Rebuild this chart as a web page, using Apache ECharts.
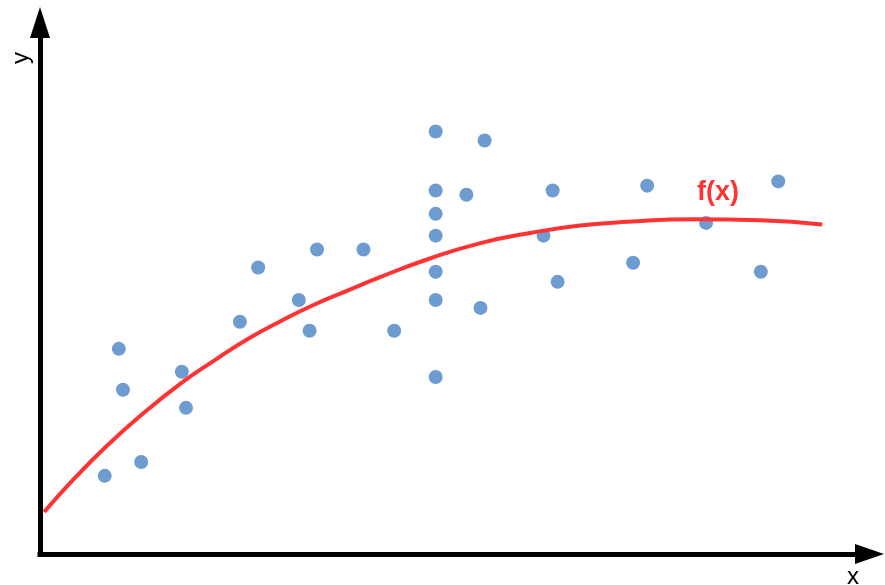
<!DOCTYPE html>
<html>
<head>
<meta charset="utf-8">
<script src="https://cdn.jsdelivr.net/npm/echarts@6/dist/echarts.min.js"></script>
<style>
  html, body { margin: 0; padding: 0; background: #fff; }
  #chart { width: 885px; height: 585px; }
</style>
</head>
<body>
<div id="chart"></div>
<script>
// observed points (arbitrary units, 0..100 on both axes)
const pointX = [7.8, 12.2, 9.5, 10.0, 17.1, 17.6, 24.1, 26.3, 31.2, 32.5, 33.4, 39.0, 42.7,
  47.7, 47.7, 47.7, 47.7, 47.7, 47.7, 47.7, 51.4, 53.6, 53.1, 60.7, 61.8, 62.4, 71.5, 73.2, 80.3, 86.9, 89.0]
const pointY = [14.7, 17.3, 38.6, 30.9, 34.3, 27.5, 43.7, 53.9, 47.8, 42.0, 57.3, 57.3, 42.0,
  79.5, 68.4, 64.0, 59.9, 53.1, 47.8, 33.3, 67.6, 77.8, 46.3, 59.9, 68.4, 51.2, 54.8, 69.3, 62.3, 53.1, 70.1]

// fitted curve f(x)
const curveX = [0.5, 4.2, 8.1, 12.1, 16.9, 20.9, 25.0, 29.0, 32.9, 37.0, 41.0, 47.0, 53.1, 59.1, 65.1, 70.8, 78.8, 86.9, 94.3]
const curveY = [7.9, 14.3, 20.4, 26.0, 32.0, 36.3, 40.4, 43.8, 46.8, 49.5, 52.1, 55.6, 58.5, 60.4, 61.8, 62.5, 63.0, 62.8, 62.0]

const axisNames = ['x', 'y']
const curveName = 'f(x)'

let chart = echarts.init(document.getElementById('chart'))

let axisCommon = {
  type: 'value',
  min: 0,
  max: 100,
  splitLine: { show: false },
  axisTick: { show: false },
  axisLabel: { show: false },
  axisLine: {
    show: true,
    symbol: ['none', 'triangle'],
    lineStyle: { color: '#000', width: 5, cap: 'square' }
  }
}

let option = {
  backgroundColor: '#fff',
  animation: false,
  grid: { left: 40, right: 15.5, top: 22.5, bottom: 31 },
  xAxis: Object.assign({}, axisCommon, {
    axisLine: Object.assign({}, axisCommon.axisLine, { symbolSize: [20, 29] })
  }),
  yAxis: Object.assign({}, axisCommon, {
    axisLine: Object.assign({}, axisCommon.axisLine, { symbolSize: [20, 31] })
  }),
  series: [
    {
      type: 'scatter',
      symbolSize: 14,
      itemStyle: { color: '#6e9bd0', opacity: 1 },
      data: pointX.map((x, i) => [x, pointY[i]]),
      z: 2
    },
    {
      type: 'line',
      name: curveName,
      smooth: true,
      showSymbol: false,
      lineStyle: { color: '#ff3333', width: 4 },
      data: curveX.map((x, i) => [x, curveY[i]]),
      z: 3
    }
  ],
  graphic: [
    {
      type: 'text',
      left: 697,
      top: 179,
      style: {
        text: curveName,
        fill: '#ff3333',
        font: 'bold 27px "Liberation Sans", Arial, sans-serif'
      }
    },
    {
      type: 'text',
      x: 21,
      y: 58,
      rotation: Math.PI / 2,
      style: {
        text: axisNames[1],
        fill: '#000',
        align: 'center',
        verticalAlign: 'middle',
        font: '24px "Liberation Sans", Arial, sans-serif'
      }
    },
    {
      type: 'text',
      x: 853,
      y: 577,
      style: {
        text: axisNames[0],
        fill: '#000',
        align: 'center',
        verticalAlign: 'middle',
        font: '24px "Liberation Sans", Arial, sans-serif'
      }
    }
  ]
}

chart.setOption(option)
</script>
</body>
</html>
